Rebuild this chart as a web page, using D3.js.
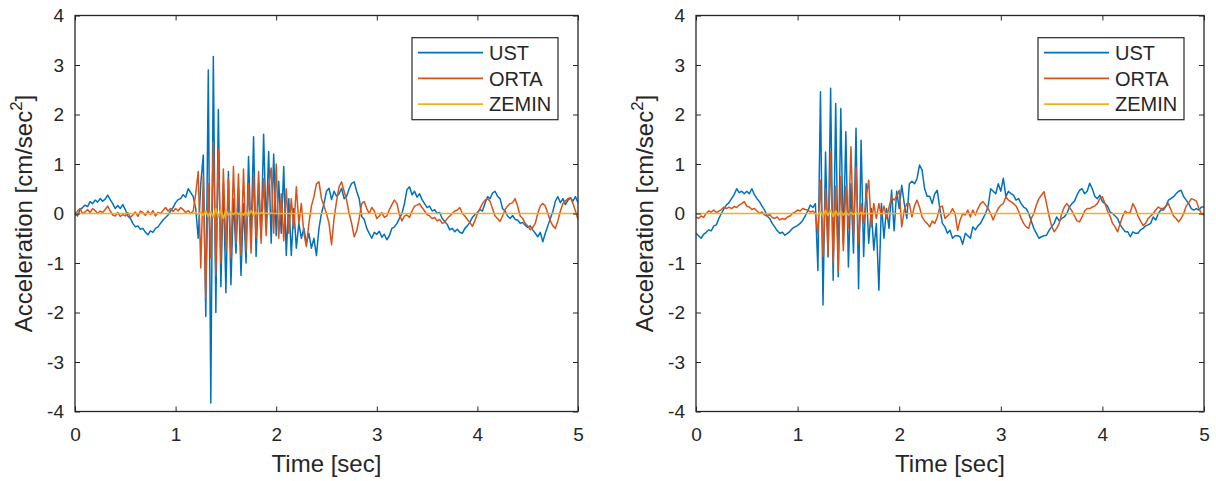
<!DOCTYPE html>
<html>
<head>
<meta charset="utf-8">
<script src="https://cdn.jsdelivr.net/npm/d3@7"></script>
<style>
  body { margin: 0; background: #fff; }
  svg { display: block; font-family: "Liberation Sans", Arial, Helvetica, sans-serif; }
</style>
</head>
<body>
<svg id="chart" width="1216" height="481"></svg>
<script>
// sample spacing of the traces, seconds
const dt = 0.025;

const tickX = [0, 1, 2, 3, 4, 5];
const tickY = [-4, -3, -2, -1, 0, 1, 2, 3, 4];
const seriesNames = ['UST', 'ORTA', 'ZEMIN'];
const seriesColors = ['#0072BD', '#D95319', '#EDB120'];

// left panel
const leftUst = [
  0.02, -0.05, 0.08, 0.12, 0.17, 0.14, 0.24, 0.2, 0.27, 0.23,
  0.3, 0.25, 0.29, 0.37, 0.28, 0.2, 0.1, 0.16, 0.1, 0.18,
  0.08, -0.05, -0.1, -0.2, -0.27, -0.25, -0.32, -0.3, -0.38, -0.43,
  -0.35, -0.38, -0.3, -0.27, -0.2, -0.13, -0.08, -0.03, 0.05, 0.12,
  0.22, 0.28, 0.3, 0.38, 0.33, 0.5, 0.42, 0.34, 0.1, -0.5,
  0.6, 1.18, -2.08, 2.9, -3.83, 3.17, -2.0, 2.1, -1.48, 0.6,
  -1.6, 0.85, -1.44, 0.3, -0.8, 0.5, -1.25, 0.2, -1.0, 1.15,
  -0.54, 1.55, -0.87, 0.6, -0.5, 1.6, -0.3, 1.25, -0.6, 1.2,
  -0.45, 0.65, -0.4, 0.95, -0.85, 0.3, -0.85, 0.1, -0.7, -0.2,
  -0.5, -0.3, -0.6, -0.4, -0.7, -0.5, -0.85, -0.3, 0.0, 0.2,
  0.45, 0.51, 0.28, 0.45, 0.35, 0.4, 0.51, 0.3, 0.35, 0.5,
  0.61, 0.64, 0.45, 0.3, -0.06, -0.12, -0.3, -0.4, -0.5, -0.38,
  -0.42, -0.36, -0.48, -0.42, -0.53, -0.45, -0.3, -0.27, -0.2, -0.1,
  0.0, 0.2, 0.48, 0.54, 0.38, 0.45, 0.33, 0.4, 0.28, 0.2,
  0.12, 0.15, 0.05, 0.08, 0.0, 0.02, -0.1, -0.16, -0.22, -0.33,
  -0.3, -0.37, -0.32, -0.38, -0.4, -0.3, -0.25, -0.18, -0.08, -0.02,
  0.02, 0.08, 0.05, 0.2, 0.34, 0.3, 0.41, 0.45, 0.35, 0.3,
  0.1, 0.05, -0.05, -0.1, -0.04, -0.12, -0.13, -0.2, -0.18, -0.24,
  -0.28, -0.25, -0.33, -0.4, -0.47, -0.38, -0.57, -0.4, -0.25, -0.1,
  0.04, 0.25, 0.34, 0.22, 0.3, 0.18, 0.27, 0.32, 0.25, 0.34,
  0.22
];
const leftOrta = [
  -0.05, 0.05, 0.1, 0.0, 0.03, 0.08, 0.02, 0.1, 0.06, 0.0,
  0.05, 0.02, 0.08, 0.15, 0.05, -0.03, -0.05, 0.02, -0.06, -0.02,
  -0.05, 0.02, -0.08, -0.03, 0.03, -0.06, 0.05, 0.02, -0.04, 0.05,
  -0.02, 0.06, -0.05, 0.02, 0.0, 0.06, 0.12, 0.05, 0.1, 0.04,
  0.1, 0.05, 0.12, 0.08, 0.02, 0.06, 0.0, 0.05, 0.4, 0.85,
  -1.1, 0.75, -1.7, 0.6, -0.9, 1.45, -1.25, 1.3, -1.0, 0.9,
  -0.75, 0.7, -0.9, 0.95, -0.6, 0.8, -0.85, 0.9, -0.75, 0.6,
  -0.8, 0.75, -0.5, 0.85, -0.6, 0.7, -0.45, 0.55, 0.92, -0.4,
  1.0, -0.5, 0.4, -0.55, 0.5, -0.4, 0.3, -0.3, 0.54, -0.2,
  0.2, -0.4, -0.67, -0.2, 0.15, 0.34, 0.6, 0.64, 0.3, 0.15,
  0.0, -0.2, -0.63, -0.1, 0.25, 0.54, 0.64, 0.45, 0.27, 0.0,
  -0.2, -0.47, -0.35, -0.1, 0.2, 0.24, 0.1, 0.0, 0.12, 0.05,
  -0.1, -0.05, 0.02, -0.08, -0.05, 0.08, 0.18, 0.27, 0.2, -0.02,
  -0.15, -0.05, -0.03, -0.08, 0.05, 0.15, 0.17, 0.2, 0.12, 0.05,
  -0.02, -0.05, -0.1, -0.08, -0.15, -0.12, -0.2, -0.18, -0.1, -0.05,
  0.0, 0.05, 0.07, 0.12, 0.0, -0.05, -0.12, -0.18, -0.26, -0.15,
  0.0, 0.1, 0.2, 0.27, 0.3, 0.25, 0.1, -0.05, -0.1, -0.16,
  -0.05, 0.08, 0.15, 0.2, 0.22, 0.3, 0.15, -0.05, -0.1, -0.2,
  -0.25, -0.33, -0.28, -0.2, 0.0, 0.15, 0.2, 0.15, 0.0, -0.15,
  -0.25, -0.3, -0.15, 0.05, 0.2, 0.25, 0.3, 0.32, 0.2, 0.05,
  -0.12
];
const leftZemin = [
  0, 0, 0, 0, 0, 0, 0, 0, 0, 0,
  0, 0, 0, 0, 0, 0, 0, 0, 0, 0,
  0, 0, 0, 0, 0, 0, 0, 0, 0, 0,
  0, 0, 0, 0, 0, 0, 0, 0, 0, 0,
  0, 0, 0, 0, 0, 0, 0, 0, 0.02, -0.03,
  0.03, -0.04, 0.05, -0.06, 0.04, -0.08, 0.1, -0.07, 0.08, -0.1,
  0.07, -0.04, 0.03, -0.02, 0.03, -0.02, 0.02, -0.03, 0.04, -0.05,
  0.06, -0.04, 0.03, -0.02, 0.02, -0.01, 0.01, -0.01, 0.01, 0,
  0, 0, 0, 0, 0, 0, 0, 0, 0, 0,
  0, 0, 0, 0, 0, 0, 0, 0, 0, 0,
  0, 0, 0, 0, 0, 0, 0, 0, 0, 0,
  0, 0, 0, 0, 0, 0, 0, 0, 0, 0,
  0, 0, 0, 0, 0, 0, 0, 0, 0, 0,
  0, 0, 0, 0, 0, 0, 0, 0, 0, 0,
  0, 0, 0, 0, 0, 0, 0, 0, 0, 0,
  0, 0, 0, 0, 0, 0, 0, 0, 0, 0,
  0, 0, 0, 0, 0, 0, 0, 0, 0, 0,
  0, 0, 0, 0, 0, 0, 0, 0, 0, 0,
  0, 0, 0, 0, 0, 0, 0, 0, 0, 0,
  0, 0, 0, 0, 0, 0, 0, 0, 0, 0,
  0
];

// right panel
const rightUst = [
  -0.4, -0.45, -0.5, -0.42, -0.38, -0.33, -0.35, -0.25, -0.23, -0.1,
  0.0, 0.1, 0.17, 0.22, 0.3, 0.38, 0.5, 0.42, 0.45, 0.4,
  0.45, 0.4, 0.5, 0.38, 0.3, 0.24, 0.15, 0.07, -0.05, -0.1,
  -0.2, -0.27, -0.35, -0.4, -0.38, -0.44, -0.4, -0.36, -0.3, -0.27,
  -0.24, -0.2, -0.14, -0.05, 0.05, 0.17, 0.12, 0.2, -1.15, 2.46,
  -1.85, 1.24, -0.88, 2.53, -1.35, 2.22, -1.28, 2.12, -0.6, 1.65,
  -1.08, 0.6, -0.8, 1.72, -1.52, 1.48, -0.87, 0.6, -0.6, 0.1,
  -0.74, -0.2, -1.55, 0.2, -0.5, 0.1, -0.3, 0.47, -0.35, 0.45,
  0.1, 0.57, 0.2, -0.1, 0.6, 0.65, 0.6, 0.7, 0.98, 0.88,
  0.5, 0.35, 0.35, 0.2, 0.4, 0.47, 0.1, -0.2, -0.27, -0.4,
  -0.34, -0.5, -0.45, -0.45, -0.47, -0.62, -0.4, -0.45, -0.5, -0.27,
  -0.33, -0.25, -0.2, -0.1, 0.0, 0.14, 0.5, 0.45, 0.4, 0.6,
  0.45, 0.71, 0.34, 0.45, 0.4, 0.37, 0.27, 0.3, 0.2, 0.13,
  0.1, 0.0, -0.15, -0.3, -0.4, -0.5, -0.47, -0.45, -0.44, -0.34,
  -0.27, -0.2, -0.07, -0.15, -0.1, -0.07, 0.0, 0.13, 0.2, 0.25,
  0.37, 0.47, 0.5, 0.4, 0.45, 0.61, 0.5, 0.35, 0.3, 0.37,
  0.24, 0.2, 0.15, 0.03, 0.0, -0.05, -0.1, -0.23, -0.3, -0.37,
  -0.37, -0.47, -0.37, -0.4, -0.4, -0.33, -0.3, -0.25, -0.23, -0.2,
  -0.07, -0.13, 0.0, 0.07, 0.07, 0.14, 0.27, 0.3, 0.34, 0.4,
  0.45, 0.47, 0.34, 0.27, 0.2, 0.1, 0.07, 0.1, 0.07, 0.13,
  0.13
];
const rightOrta = [
  -0.07, -0.1, -0.05, -0.08, 0.0, 0.05, 0.03, 0.07, 0.02, 0.05,
  0.08, 0.13, 0.1, 0.13, 0.1, 0.14, 0.12, 0.17, 0.2, 0.24,
  0.15, 0.13, 0.08, 0.1, 0.05, 0.0, 0.03, -0.03, -0.05, -0.02,
  -0.08, -0.1, -0.07, -0.13, -0.1, -0.12, -0.07, -0.05, 0.0, 0.03,
  0.07, 0.05, 0.1, 0.08, 0.07, 0.03, 0.05, 0.0, -0.4, 0.67,
  -0.87, 0.5, -0.85, 1.24, -1.0, 0.55, -1.15, 0.75, -0.75, 0.55,
  -0.3, 1.35, -0.47, 0.94, -0.6, 0.2, -0.2, 0.35, 0.67, -0.27,
  0.2, -0.1, 0.2, -0.05, 0.15, -0.1, 0.13, 0.33, 0.27, 0.35,
  0.47, -0.27, 0.07, 0.2, 0.2, -0.07, 0.15, 0.27, 0.13, -0.07,
  -0.15, -0.2, -0.27, -0.15, -0.2, -0.07, 0.13, 0.15, -0.1, -0.05,
  0.0, 0.1, 0.0, -0.34, -0.13, 0.0, -0.03, 0.07, -0.07, 0.07,
  -0.03, 0.1, 0.2, 0.24, 0.17, 0.1, 0.0, -0.13, 0.0, 0.1,
  0.17, 0.2, 0.34, 0.27, 0.24, 0.2, 0.15, 0.05, -0.1, -0.2,
  -0.27, -0.3, -0.1, 0.0, 0.17, 0.3, 0.37, 0.44, 0.2, -0.05,
  -0.25, -0.37, -0.3, -0.2, 0.0, 0.13, 0.2, 0.13, 0.05, -0.05,
  -0.15, -0.17, -0.07, 0.05, 0.1, 0.1, 0.13, 0.15, 0.2, 0.3,
  0.34, 0.2, 0.05, -0.05, -0.2, -0.27, -0.37, -0.2, -0.05, 0.05,
  0.0, 0.03, 0.2, 0.1, -0.05, -0.15, -0.24, -0.2, -0.1, -0.05,
  0.0, 0.07, 0.13, 0.1, 0.1, 0.15, 0.2, 0.07, -0.05, -0.1,
  -0.17, -0.1, 0.0, 0.15, 0.22, 0.3, 0.28, 0.25, 0.1, 0.0,
  -0.03
];
const rightZemin = [
  0, 0, 0, 0, 0, 0, 0, 0, 0, 0,
  0, 0, 0, 0, 0, 0, 0, 0, 0, 0,
  0, 0, 0, 0, 0, 0, 0, 0, 0, 0,
  0, 0, 0, 0, 0, 0, 0, 0, 0, 0,
  0, 0, 0, 0, 0, 0, 0, 0, -0.03, 0.04,
  -0.05, 0.06, -0.04, 0.07, -0.06, 0.05, -0.04, 0.04, -0.03, 0.03,
  -0.03, 0.02, -0.02, 0.03, -0.02, 0.02, -0.01, 0.01, -0.01, 0,
  0, 0, 0, 0, 0, 0, 0, 0, 0, 0,
  0, 0, 0, 0, 0, 0, 0, 0, 0, 0,
  0, 0, 0, 0, 0, 0, 0, 0, 0, 0,
  0, 0, 0, 0, 0, 0, 0, 0, 0, 0,
  0, 0, 0, 0, 0, 0, 0, 0, 0, 0,
  0, 0, 0, 0, 0, 0, 0, 0, 0, 0,
  0, 0, 0, 0, 0, 0, 0, 0, 0, 0,
  0, 0, 0, 0, 0, 0, 0, 0, 0, 0,
  0, 0, 0, 0, 0, 0, 0, 0, 0, 0,
  0, 0, 0, 0, 0, 0, 0, 0, 0, 0,
  0, 0, 0, 0, 0, 0, 0, 0, 0, 0,
  0, 0, 0, 0, 0, 0, 0, 0, 0, 0,
  0, 0, 0, 0, 0, 0, 0, 0, 0, 0,
  0
];

const panels = [
  { left: 75, right: 578, series: [leftUst, leftOrta, leftZemin] },
  { left: 696, right: 1204, series: [rightUst, rightOrta, rightZemin] }
];

const axTop = 15.5, axBottom = 411.5;
const ink = '#262626';
const tickFont = 19, labelFont = 24, legendFont = 20;
const strokeWidths = [1.5, 1.5, 1.7];

const svg = d3.select('#chart');

panels.forEach((p, k) => {
  const x = d3.scaleLinear([0, 5], [p.left, p.right]);
  const y = d3.scaleLinear([-4, 4], [axBottom, axTop]);

  svg.append('clipPath').attr('id', 'clip' + k)
    .append('rect')
    .attr('x', p.left).attr('y', axTop)
    .attr('width', p.right - p.left).attr('height', axBottom - axTop);

  const line = d3.line()
    .x((d, i) => x(i * dt))
    .y(d => y(d));

  const plot = svg.append('g').attr('clip-path', `url(#clip${k})`);
  p.series.forEach((vals, j) => {
    plot.append('path')
      .datum(vals)
      .attr('d', line)
      .attr('fill', 'none')
      .attr('stroke', seriesColors[j])
      .attr('stroke-width', strokeWidths[j])
      .attr('stroke-linejoin', 'round');
  });

  // axes, ticks pointing inwards like matlab
  const styleAxis = g => {
    g.select('.domain').remove();
    g.selectAll('.tick line').attr('stroke', ink).attr('stroke-width', 1);
    g.selectAll('.tick text').attr('fill', ink).attr('font-size', tickFont);
  };
  svg.append('g').attr('transform', `translate(0,${axBottom})`)
    .call(d3.axisBottom(x).tickValues(tickX).tickSizeInner(-5).tickSizeOuter(0)
      .tickPadding(16).tickFormat(d => String(d)))
    .call(styleAxis);
  svg.append('g').attr('transform', `translate(${p.left},0)`)
    .call(d3.axisLeft(y).tickValues(tickY).tickSizeInner(-5).tickSizeOuter(0)
      .tickPadding(11).tickFormat(d => String(d)))
    .call(styleAxis);
  svg.append('g').attr('transform', `translate(0,${axTop})`)
    .call(d3.axisTop(x).tickValues(tickX).tickSizeInner(-5).tickSizeOuter(0).tickFormat(''))
    .call(styleAxis);
  svg.append('g').attr('transform', `translate(${p.right},0)`)
    .call(d3.axisRight(y).tickValues(tickY).tickSizeInner(-5).tickSizeOuter(0).tickFormat(''))
    .call(styleAxis);

  svg.append('rect')
    .attr('x', p.left).attr('y', axTop)
    .attr('width', p.right - p.left).attr('height', axBottom - axTop)
    .attr('fill', 'none').attr('stroke', ink).attr('stroke-width', 1.3);

  // axis labels
  svg.append('text')
    .attr('x', (p.left + p.right) / 2).attr('y', 472)
    .attr('text-anchor', 'middle').attr('font-size', labelFont).attr('fill', ink)
    .text('Time [sec]');

  const yl = svg.append('text')
    .attr('transform', `translate(${p.left - 43},${(axTop + axBottom) / 2}) rotate(-90)`)
    .attr('text-anchor', 'middle').attr('font-size', labelFont).attr('fill', ink);
  yl.append('tspan').text('Acceleration [cm/sec');
  yl.append('tspan').attr('font-size', labelFont * 0.7).attr('dy', -10).text('2');
  yl.append('tspan').attr('dy', 10).text(']');

  // legend
  const lx = p.right - 166, ly = 37.7;
  const legend = svg.append('g').attr('transform', `translate(${lx},${ly})`);
  legend.append('rect')
    .attr('width', 146).attr('height', 82)
    .attr('fill', '#fff').attr('stroke', ink).attr('stroke-width', 1.2);
  seriesNames.forEach((name, j) => {
    const ry = 15 + j * 25.7;
    legend.append('line')
      .attr('x1', 6).attr('x2', 71).attr('y1', ry).attr('y2', ry)
      .attr('stroke', seriesColors[j]).attr('stroke-width', 1.7);
    legend.append('text')
      .attr('x', 77).attr('y', ry).attr('dy', '0.36em')
      .attr('font-size', legendFont).attr('fill', ink)
      .text(name);
  });
});
</script>
</body>
</html>
